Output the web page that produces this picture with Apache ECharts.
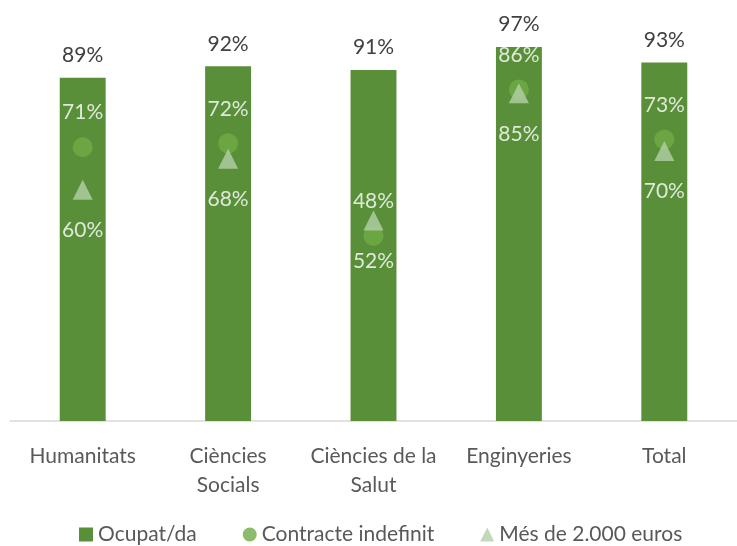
<!DOCTYPE html>
<html>
<head>
<meta charset="utf-8">
<script src="https://cdn.jsdelivr.net/npm/echarts@6/dist/echarts.min.js"></script>
<style>
  html, body { margin: 0; padding: 0; background: #ffffff; }
  #chart { width: 737px; height: 546px; }
</style>
</head>
<body>
<div id="chart"></div>
<script>
// Field of study categories and their two-line axis labels
var categories = ['Humanitats', 'Ciències Socials', 'Ciències de la Salut', 'Enginyeries', 'Total'];
var tickLabels = ['Humanitats', 'Ciències\nSocials', 'Ciències de la\nSalut', 'Enginyeries', 'Total'];

// Percentages per category
var ocupat = [89, 92, 91, 97, 93];
var contracteIndefinit = [71, 72, 48, 86, 73];
var mesDe2000 = [60, 68, 52, 85, 70];

var FONT = 'Lato, "Open Sans", sans-serif';
var FS = 21;

var chart = echarts.init(document.getElementById('chart'), null, { renderer: 'canvas' });

chart.setOption({
  animation: false,
  textStyle: { fontFamily: FONT },
  grid: { left: 10, right: -10, top: 35.4, bottom: 125, containLabel: false },
  legend: {
    top: 524,
    left: 79,
    padding: 0,
    itemWidth: 14,
    itemHeight: 14,
    itemGap: 46,
    textStyle: { fontSize: FS, color: '#595959', fontFamily: FONT },
    data: [
      { name: 'Ocupat/da', icon: 'rect' },
      { name: 'Contracte indefinit', icon: 'circle' },
      { name: 'Més de 2.000 euros', icon: 'triangle' }
    ]
  },
  xAxis: {
    type: 'category',
    data: categories,
    axisTick: { show: false },
    axisLine: { lineStyle: { color: '#d9d9d9', width: 1.5 } },
    axisLabel: {
      interval: 0,
      fontSize: FS,
      color: '#595959',
      lineHeight: 29,
      margin: 21,
      formatter: function (v, i) { return tickLabels[i]; }
    }
  },
  yAxis: {
    type: 'value',
    min: 0,
    max: 100,
    show: false,
    splitLine: { show: false }
  },
  series: [
    {
      name: 'Ocupat/da',
      type: 'bar',
      data: ocupat,
      barWidth: '31.6%',
      itemStyle: { color: '#5a8f3a' },
      label: {
        show: true,
        position: 'top',
        distance: 12,
        fontSize: FS,
        color: '#404040',
        formatter: '{c}%'
      },
      z: 1
    },
    {
      name: 'Contracte indefinit',
      type: 'scatter',
      data: contracteIndefinit,
      symbol: 'circle',
      symbolSize: 20,
      itemStyle: { color: '#6fab46' },
      label: {
        show: true,
        position: 'top',
        distance: 14,
        fontSize: FS,
        color: '#ffffff',
        formatter: '{c}%'
      },
      z: 3
    },
    {
      name: 'Més de 2.000 euros',
      type: 'scatter',
      data: mesDe2000,
      symbol: 'triangle',
      symbolSize: 20,
      itemStyle: { color: '#b3cfa7' },
      label: {
        show: true,
        position: 'bottom',
        distance: 20,
        fontSize: FS,
        color: '#ffffff',
        formatter: '{c}%'
      },
      z: 4
    }
  ]
});
</script>
</body>
</html>
